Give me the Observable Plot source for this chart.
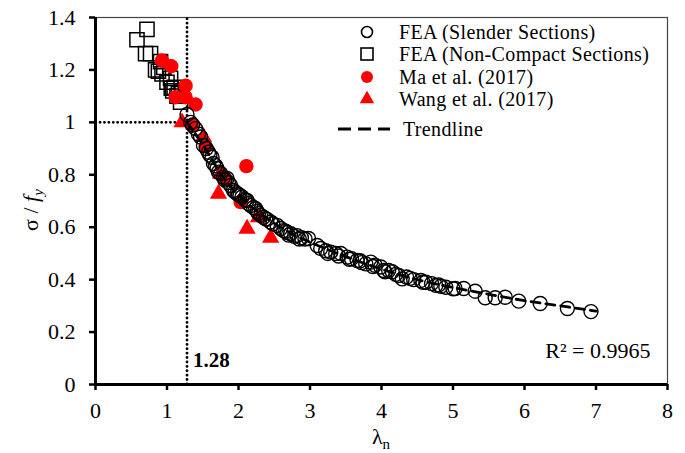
<!DOCTYPE html>
<html><head><meta charset="utf-8">
<script src="https://cdn.jsdelivr.net/npm/d3@7"></script>
<script src="https://cdn.jsdelivr.net/npm/@observablehq/plot@0.6"></script>
<style>
body{margin:0;background:#fff;}
#wrap{position:relative;width:685px;height:453px;font-family:"Liberation Serif","Times New Roman",serif;}
#legend{position:absolute;left:330px;top:23px;font-size:20px;letter-spacing:0.35px;color:#000;}
#legend .row{position:absolute;white-space:nowrap;height:20px;line-height:20px;}
#legend .row span{display:inline-block;height:20px;line-height:20px;position:absolute;top:0;}
#legend svg{position:absolute;overflow:visible;}
</style></head><body><div id="wrap"><div id="legend"></div></div>
<script>
// ---- data ----
const slenderX = [1.28,1.33,1.36,1.40,1.44,1.47,1.51,1.55,1.58,1.60,1.63,1.65,1.68,1.70,1.72,1.75,1.79,1.81,1.84,1.86,1.89,1.93,1.95,1.98,2.00,2.02,2.05,2.09,2.12,2.14,2.17,2.21,2.24,2.26,2.28,2.31,2.35,2.38,2.40,2.45,2.48,2.54,2.59,2.63,2.66,2.68,2.70,2.73,2.78,2.82,2.85,2.88,2.93,2.98,3.10,3.15,3.22,3.25,3.29,3.36,3.40,3.43,3.52,3.55,3.58,3.66,3.70,3.72,3.78,3.85,3.88,3.91,3.99,4.03,4.05,4.10,4.15,4.20,4.24,4.29,4.35,4.40,4.45,4.55,4.58,4.62,4.70,4.76,4.80,4.83,4.90,5.00,5.03,5.15,5.31,5.45,5.59,5.73,5.92,6.22,6.60,6.93];
const slenderY = [1.03,1.00,0.99,0.976,0.955,0.944,0.912,0.90,0.886,0.875,0.867,0.843,0.835,0.824,0.81,0.805,0.79,0.78,0.786,0.77,0.759,0.74,0.735,0.728,0.725,0.72,0.715,0.705,0.702,0.69,0.683,0.675,0.671,0.66,0.652,0.645,0.638,0.632,0.63,0.62,0.613,0.607,0.595,0.587,0.585,0.58,0.57,0.575,0.565,0.568,0.555,0.56,0.555,0.557,0.53,0.519,0.51,0.50,0.505,0.50,0.49,0.50,0.486,0.478,0.48,0.473,0.472,0.465,0.46,0.467,0.45,0.455,0.448,0.435,0.43,0.435,0.43,0.42,0.416,0.403,0.41,0.405,0.40,0.397,0.39,0.39,0.385,0.378,0.38,0.375,0.371,0.365,0.366,0.366,0.356,0.331,0.331,0.333,0.318,0.309,0.290,0.278];
const nonCompactX = [0.58,0.72,0.70,0.77,0.84,0.88,0.91,0.955,0.93,1.00,1.05,1.06,1.10,1.08,1.14,1.16,1.19,1.21];
const nonCompactY = [1.315,1.355,1.262,1.262,1.20,1.195,1.232,1.21,1.185,1.153,1.168,1.13,1.134,1.12,1.10,1.11,1.077,1.115];
const maX = [0.93,1.06,1.26,1.12,1.26,1.40,1.35,1.54,1.82,2.03,2.11];
const maY = [1.236,1.214,1.14,1.096,1.096,1.068,0.988,0.908,0.785,0.696,0.833];
const wangX = [1.21,1.51,1.75,1.72,2.12,2.28,2.45];
const wangY = [1.00,0.944,0.804,0.728,0.594,0.638,0.56];
const trendX = [1.28,1.5,1.75,2.0,2.25,2.5,2.75,3.0,3.5,4.0,4.5,5.0,5.5,6.0,6.5,7.0];
const trendY = [1.0,0.915,0.805,0.722,0.663,0.615,0.575,0.543,0.488,0.44,0.40,0.37,0.344,0.32,0.30,0.28];
const limitX = 1.28;   // vertical dotted line / label
const limitY = 1.0;    // horizontal dotted line
const limitLabel = "1.28";
const r2Label = "R\u00B2 = 0.9965";
const xTicks = [0,1,2,3,4,5,6,7,8];
const yTicks = [0,0.2,0.4,0.6,0.8,1.0,1.2,1.4];
const legendItems = ["FEA (Slender Sections)","FEA (Non-Compact Sections)","Ma et al. (2017)","Wang et al. (2017)"];
const trendLabel = "Trendline";

// ---- tables ----
const zip = (xs, ys) => xs.map((x, i) => ({x, y: ys[i]}));
const slender = zip(slenderX, slenderY);
const nonCompact = zip(nonCompactX, nonCompactY);
const ma = zip(maX, maY);
const wang = zip(wangX, wangY);
const trend = zip(trendX, trendY);

const ser = "'Liberation Serif','Times New Roman',serif";
const plot = Plot.plot({
  width: 685, height: 453,
  marginLeft: 95, marginRight: 18, marginTop: 17, marginBottom: 69,
  style: {fontFamily: ser, fontSize: "22px", background: "white", color: "black", overflow: "visible"},
  x: {domain: [0, 8], label: null},
  y: {domain: [0, 1.4], label: null},
  marks: [
    Plot.frame({stroke: "#444", strokeWidth: 1.2}),
    Plot.axisX({ticks: xTicks, tickSize: 6, tickPadding: 12, strokeWidth: 2.5, label: null, tickFormat: d => String(d)}),
    Plot.axisY({ticks: yTicks, tickSize: 6, tickPadding: 14, strokeWidth: 2.5, label: null, tickFormat: d => String(+d.toFixed(1))}),
    Plot.ruleX([limitX], {y1: 0, y2: 1.4, stroke: "black", strokeWidth: 2.8, strokeDasharray: "0.1,4.3", strokeLinecap: "round"}),
    Plot.ruleY([limitY], {x1: 0.07, x2: limitX - 0.12, stroke: "black", strokeWidth: 2.8, strokeDasharray: "0.1,4.3", strokeLinecap: "round"}),
    Plot.dot(nonCompact, {x: "x", y: "y", symbol: "square", r: 8, stroke: "black", fill: "none", strokeWidth: 1.5}),
    Plot.dot(wang, {x: "x", y: "y", symbol: "triangle", r: 6.4, fill: "#ff0000", stroke: "none"}),
    Plot.dot(ma, {x: "x", y: "y", symbol: "circle", r: 7.2, fill: "#ff0000", stroke: "none"}),
    Plot.dot(slender, {x: "x", y: "y", symbol: "circle", r: 7, stroke: "black", fill: "none", strokeWidth: 1.4}),
    Plot.line(trend, {x: "x", y: "y", stroke: "black", strokeWidth: 2.8, strokeDasharray: "9,6", curve: "monotone-x"}),
    Plot.ruleY([0], {stroke: "black", strokeWidth: 3}),
    Plot.ruleX([0], {stroke: "black", strokeWidth: 3}),
    Plot.text([limitLabel], {x: limitX, y: 0.092, text: d => d, textAnchor: "start", dx: 6, fontWeight: "bold", fontSize: 21}),
    Plot.text([r2Label], {frameAnchor: "bottom-right", text: d => d, textAnchor: "end", dx: -17, dy: -27, fontSize: 22})
  ]
});
const wrap = document.getElementById("wrap");
wrap.insertBefore(plot, wrap.firstChild);

// axis titles with italics / subscripts
const svg = d3.select(plot);
const yl = svg.append("text").attr("transform", "translate(38,210) rotate(-90)")
  .attr("text-anchor", "middle").attr("font-size", 22).attr("font-family", ser).attr("fill", "black");
yl.append("tspan").text("\u03C3 / ");
yl.append("tspan").attr("font-style", "italic").text("f");
yl.append("tspan").attr("font-style", "italic").attr("font-size", 15).attr("dy", 5).text("y");
const xl = svg.append("text").attr("transform", "translate(381,444)")
  .attr("text-anchor", "middle").attr("font-size", 22).attr("font-family", ser).attr("fill", "black");
xl.append("tspan").text("\u03BB");
xl.append("tspan").attr("font-size", 15).attr("dy", 5).text("n");

// legend (HTML overlay)
const legend = d3.select("#legend");
const rowStep = 22.3;
const symbols = [
  g => g.append("circle").attr("r", 5.5).attr("fill", "none").attr("stroke", "black").attr("stroke-width", 1.6),
  g => g.append("rect").attr("x", -6).attr("y", -6).attr("width", 12).attr("height", 12).attr("fill", "none").attr("stroke", "black").attr("stroke-width", 1.6),
  g => g.append("circle").attr("r", 6).attr("fill", "#ff0000"),
  g => g.append("path").attr("d", d3.symbol(d3.symbolTriangle, 90)()).attr("fill", "#ff0000")
];
legendItems.forEach((t, i) => {
  const row = legend.append("div").attr("class", "row").style("left", "0px").style("top", (i * rowStep - 1) + "px");
  const s = row.append("svg").attr("width", 20).attr("height", 20).style("left", "27px").style("top", "0px");
  symbols[i](s.append("g").attr("transform", "translate(10,10)"));
  row.append("span").style("left", "69px").text(t);
});
const trow = legend.append("div").attr("class", "row").style("left", "0px").style("top", "96px");
const ts = trow.append("svg").attr("width", 60).attr("height", 20).style("left", "8px").style("top", "0px");
ts.append("line").attr("x1", 0).attr("x2", 52).attr("y1", 10).attr("y2", 10).attr("stroke", "black").attr("stroke-width", 2.8).attr("stroke-dasharray", "13,7");
trow.append("span").style("left", "73px").text(trendLabel);
</script>
</body></html>
